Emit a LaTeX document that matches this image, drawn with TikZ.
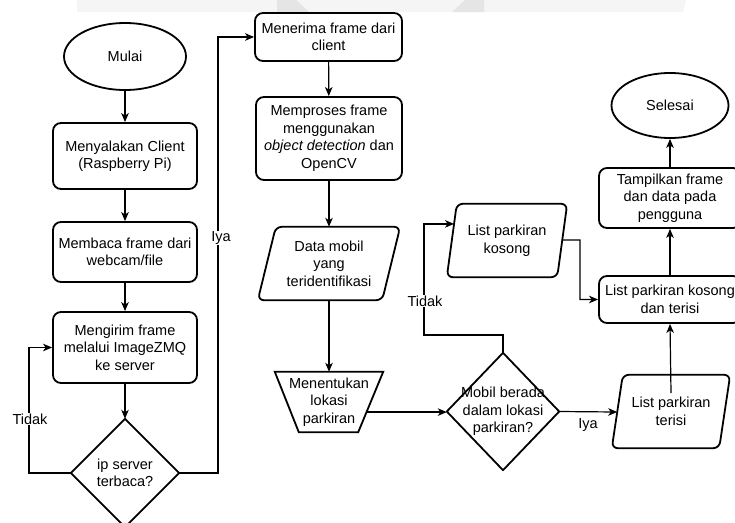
\documentclass[tikz,border=0pt]{standalone}
\usepackage{fontspec}
\setmainfont{Liberation Sans}
\usetikzlibrary{arrows.meta,shapes.geometric,calc}

\begin{document}
\begin{tikzpicture}[x=1pt,y=-1pt,
  txt/.style={font=\fontsize{14.5}{17.5}\selectfont, align=center, inner sep=0pt, text=black},
  proc/.style={txt, draw, line width=1.8pt, rounded corners=8pt},
  term/.style={txt, draw, ellipse, line width=1.8pt},
  bbox/.style={txt, draw=none},
  outline/.style={line width=1.8pt, line join=round},
  conn/.style={line width=1.2pt, -{Stealth[length=9pt,width=7.5pt,inset=2.5pt]}},
  lbl/.style={txt, fill=white, inner sep=1pt}
]
\useasboundingbox (0,0) rectangle (735,522);
\clip (0,0) rectangle (735,522);

% faint band along the top edge
\fill[black!4] (77,0) -- (686,0) -- (683,12) -- (77,12) -- cycle;
\fill[black!10] (277,0) -- (296,0) -- (309,12) -- (277,12) -- cycle;
\fill[black!10] (465,0) -- (484,0) -- (484,12) -- (452,12) -- cycle;

% ---- client column ----
\node[term, minimum width=122, minimum height=67] (mulai) at (125,56.5) {Mulai};
\node[proc, minimum width=144, minimum height=66] (b1) at (125,156) {Menyalakan Client\\(Raspberry Pi)};
\node[proc, minimum width=144, minimum height=60] (b2) at (125,252) {Membaca frame dari\\webcam/file};
\node[proc, minimum width=144, minimum height=71] (b3) at (125,347.5) {Mengirim frame\\melalui ImageZMQ\\ke server};
\node[bbox, minimum width=108, minimum height=108] (d1) at (125,473) {ip server\\terbaca?};
\draw[outline] (d1.north) -- (d1.east) -- (d1.south) -- (d1.west) -- cycle;

% ---- server column ----
\node[proc, minimum width=147, minimum height=48] (m1) at (328.5,37) {Menerima frame dari\\client};
\node[proc, minimum width=146, minimum height=83] (m2) at (329,138.5) {Memproses frame\\menggunakan\\\textit{object detection} dan\\OpenCV};
\node[bbox, minimum width=142, minimum height=73] (data) at (329,263.5) {Data mobil\\yang\\teridentifikasi};
\draw[outline, rounded corners=6pt] ([xshift=18pt]data.north west) -- (data.north east)
  -- ([xshift=-18pt]data.south east) -- (data.south west) -- cycle;
\node[bbox, minimum width=108, minimum height=60] (trap) at (329,402) {Menentukan\\lokasi\\parkiran};
\draw[outline, line join=miter] (trap.north west) -- (trap.north east)
  -- ([xshift=-25pt]trap.south east) -- ([xshift=24pt]trap.south west) -- cycle;

% ---- decision and lists ----
\node[bbox, minimum width=112, minimum height=117] (d2) at (503,411.5) {Mobil berada\\dalam lokasi\\parkiran?};
\draw[outline] (d2.north) -- (d2.east) -- (d2.south) -- (d2.west) -- cycle;
\node[bbox, minimum width=120, minimum height=73] (kos) at (507,240.5) {List parkiran\\kosong};
\draw[outline, rounded corners=6pt] ([xshift=10pt]kos.north west) -- (kos.north east)
  -- ([xshift=-10pt]kos.south east) -- (kos.south west) -- cycle;
\node[bbox, minimum width=118, minimum height=73] (ter) at (671,411.5) {List parkiran\\terisi};
\draw[outline, rounded corners=6pt] ([xshift=11pt]ter.north west) -- (ter.north east)
  -- ([xshift=-11pt]ter.south east) -- (ter.south west) -- cycle;
\node[proc, minimum width=142, minimum height=47] (lk) at (670,299.5) {List parkiran kosong\\dan terisi};
\node[proc, minimum width=142, minimum height=60] (tamp) at (670,198) {Tampilkan frame\\dan data pada\\pengguna};
\node[term, minimum width=117, minimum height=65] (selesai) at (670,105.5) {Selesai};

% ---- helper points for the connectors ----
\coordinate (loopL) at (29,0);
\coordinate (loopR) at (218,0);
\coordinate (trapR) at ($(trap.north east)!0.667!([xshift=-25pt]trap.south east)$);
\coordinate (upT) at (424,335);
\coordinate (kosIn) at ($([xshift=10pt]kos.north west)!0.274!(kos.south west)$);
\coordinate (kosOut) at ($(kos.north east)!0.493!([xshift=-10pt]kos.south east)$);
\coordinate (bend) at (580,240);
\coordinate (terIn) at ($([xshift=11pt]ter.north west)!0.507!(ter.south west)$);
\coordinate (terTop) at ($(ter.center)+(0,-18.5)$);

% ---- connectors ----
\draw[conn] (mulai) -- (b1);
\draw[conn] (b1) -- (b2);
\draw[conn] (b2) -- (b3);
\draw[conn] (b3) -- (d1.north);
\draw[conn] (d1.west) -- (d1.west -| loopL) |- (b3.west);
\draw[conn] (d1.east) -- (d1.east -| loopR) |- (m1.west);
\draw[conn] (m1) -- (m2);
\draw[conn] (m2) -- (data.north);
\draw[conn] (data.south) -- (trap.north);
\draw[conn] (trapR) -- (trapR -| d2.west);
\draw[conn] (d2.north) |- (upT) |- (kosIn);
\draw[conn] (kosOut) -- (bend) |- (lk.west);
\draw[conn] (d2.east) -- (terIn);
\draw[conn] (terTop) -- (lk.south);
\draw[conn] (lk) -- (tamp);
\draw[conn] (tamp) -- (selesai);

% ---- branch labels ----
\node[lbl] (t1) at (30,419) {Tidak};
\node[lbl] (y1) at (221,238) {Iya};
\node[lbl] (t2) at (425,301) {Tidak};
\node[lbl] (y2) at (588,425) {Iya};
\end{tikzpicture}
\end{document}
